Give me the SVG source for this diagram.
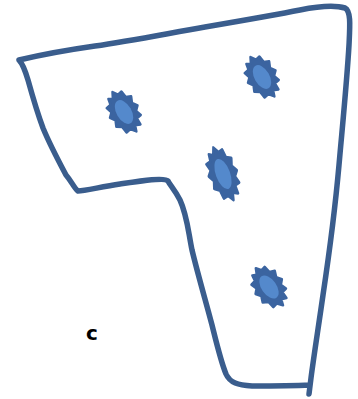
<svg xmlns="http://www.w3.org/2000/svg" width="358" height="399" viewBox="0 0 358 399">
  <defs>
    <style>
      .outline { fill: none; stroke: #3a5d8d; stroke-width: 5.5; stroke-linecap: round; stroke-linejoin: round; }
      .spot-outer { fill: #3b64a0; stroke: #3b64a0; stroke-width: 2.5; stroke-linejoin: round; }
      .spot-inner { fill: #5489cc; }
      .label { font-family: "DejaVu Sans", Verdana, sans-serif; font-weight: bold; font-size: 20px; fill: #000; }
    </style>
    <g id="spot">
      <path class="spot-outer" d="M0,-23 L3.5,-18 L8,-19 L9,-12 L14,-10 L11.5,-4 L15,1 L11,5 L13,11 L8,12 L8,19 L3,17 L1,23 L-3,18 L-8,19 L-9,12 L-14,9 L-11.5,3 L-15,-2 L-11,-6 L-13,-12 L-8,-13 L-7,-19 L-3,-17 Z"/>
      <ellipse class="spot-inner" cx="0" cy="0" rx="7.5" ry="13"/>
    </g>
  </defs>

  <g id="outline">
    <path class="outline" d="M309,394 L311,378 C314,355 318,330 323,295 C329,255 335,210 339,165 C343,120 347,80 349,45 C350,25 351,11 345,8 C335,5 320,6 300,10 C275,15 240,21 205,27 C170,33 130,41 95,46 C60,51 40,55 19,60 C22,63 25,70 28,80 C33,98 37,112 43,128 C50,145 58,160 66,175 C72,182 74,188 78,191 C85,191 100,187 120,184 C140,181 165,177 168,181 C170,185 175,190 180,200 C187,215 188,230 192,250 C198,275 206,302 212,325 C217,345 221,362 226,374 C230,383 238,385 252,386 C265,386 290,386 310,385"/>
  </g>

  <g id="spot-1"><use href="#spot" transform="translate(124,112) rotate(-30)"/></g>
  <g id="spot-2"><use href="#spot" transform="translate(262,77) rotate(-30)"/></g>
  <g id="spot-3"><use href="#spot" transform="translate(223,174) rotate(-20) scale(0.95,1.22)"/></g>
  <g id="spot-4"><use href="#spot" transform="translate(269,287) rotate(-35)"/></g>

  <g id="label-c"><text class="label" x="86" y="340">c</text></g>
</svg>
